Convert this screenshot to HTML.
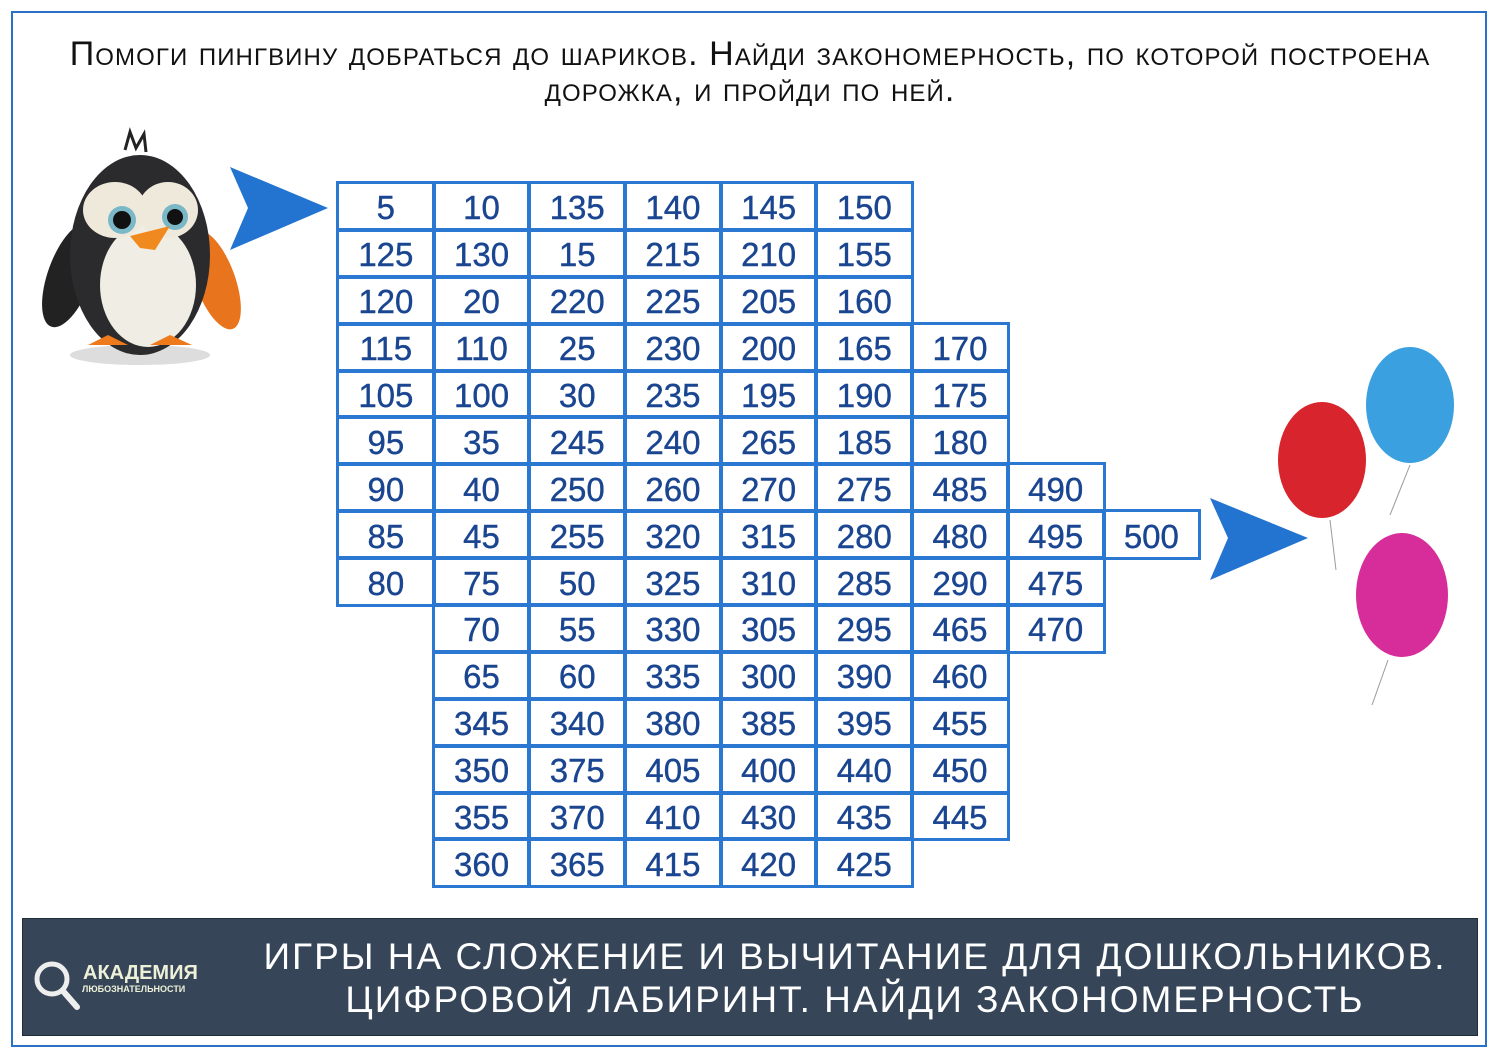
<!DOCTYPE html>
<html><head><meta charset="utf-8"><style>
body{margin:0;width:1500px;height:1060px;background:#fff;position:relative;overflow:hidden;font-family:"Liberation Sans",sans-serif}
.frame{position:absolute;left:11px;top:11px;width:1476px;height:1036px;border:2px solid #2a72c8;box-sizing:border-box}
.title{position:absolute;left:0px;top:36px;width:1500px;text-align:center;font-size:34px;line-height:36px;font-variant:small-caps;color:#111;letter-spacing:1.1px;white-space:nowrap}
.grid{position:absolute;left:338px;top:183px;display:grid;grid-template-columns:repeat(9,95.7px);grid-template-rows:repeat(15,46.9px)}
.grid div{outline:3px solid #2a78d2;outline-offset:-1.5px;color:#1a4590;font-size:33px;display:flex;align-items:center;justify-content:center;padding-top:4px;box-sizing:border-box;-webkit-text-stroke:0.4px #1a4590}
.banner{position:absolute;left:22px;top:918px;width:1456px;height:118px;background:#364658;border:1px solid #222c38;box-sizing:border-box}
.btxt{position:absolute;left:230px;top:935px;width:1250px;text-align:center;color:#fff;font-size:37px;line-height:43px;letter-spacing:2px}
</style></head><body>
<div class="frame"></div>
<div class="title">Помоги пингвину добраться до шариков. Найди закономерность, по которой построена<br>дорожка, и пройди по ней.</div>

<svg style="position:absolute;left:0;top:0" width="1500" height="1060">
<polygon points="230,167 328,208 230,250 248,208" fill="#2373d0"/>
<polygon points="1210,498 1308,538 1210,580 1228,538" fill="#2373d0"/>
<!-- penguin -->
<ellipse cx="140" cy="355" rx="70" ry="10" fill="#ddd"/>
<ellipse cx="70" cy="275" rx="22" ry="55" fill="#222" transform="rotate(20 70 275)"/>
<ellipse cx="215" cy="280" rx="20" ry="52" fill="#e8741e" transform="rotate(-20 215 280)"/>
<ellipse cx="140" cy="255" rx="70" ry="100" fill="#2b2b2e"/>
<ellipse cx="148" cy="285" rx="48" ry="62" fill="#f0ede4"/>
<ellipse cx="115" cy="210" rx="32" ry="28" fill="#efe9dc"/>
<ellipse cx="168" cy="210" rx="30" ry="28" fill="#efe9dc"/>
<circle cx="122" cy="220" r="14" fill="#7ab8c8"/><circle cx="122" cy="220" r="9" fill="#111"/>
<circle cx="175" cy="217" r="13" fill="#7ab8c8"/><circle cx="175" cy="217" r="8" fill="#111"/>
<polygon points="130,236 170,226 155,250 140,248" fill="#f08a1e"/>
<path d="M88,345 l20,-10 l20,10 z M150,345 l20,-10 l22,10 z" fill="#ef7a1c"/>
<path d="M125,150 l5,-18 l6,16 l8,-14 l2,18" stroke="#222" stroke-width="3" fill="none"/>
<!-- balloons -->
<line x1="1410" y1="465" x2="1390" y2="515" stroke="#999"/>
<line x1="1330" y1="520" x2="1336" y2="570" stroke="#999"/>
<line x1="1388" y1="660" x2="1372" y2="705" stroke="#999"/>
<ellipse cx="1410" cy="405" rx="44" ry="58" fill="#3aa0e0"/>
<ellipse cx="1322" cy="460" rx="44" ry="58" fill="#d8242c"/>
<ellipse cx="1402" cy="595" rx="46" ry="62" fill="#d62d9a"/>
</svg>

<div class="grid">
<div style="grid-column-start:1">5</div><div>10</div><div>135</div><div>140</div><div>145</div><div>150</div>
<div style="grid-column-start:1">125</div><div>130</div><div>15</div><div>215</div><div>210</div><div>155</div>
<div style="grid-column-start:1">120</div><div>20</div><div>220</div><div>225</div><div>205</div><div>160</div>
<div style="grid-column-start:1">115</div><div>110</div><div>25</div><div>230</div><div>200</div><div>165</div><div>170</div>
<div style="grid-column-start:1">105</div><div>100</div><div>30</div><div>235</div><div>195</div><div>190</div><div>175</div>
<div style="grid-column-start:1">95</div><div>35</div><div>245</div><div>240</div><div>265</div><div>185</div><div>180</div>
<div style="grid-column-start:1">90</div><div>40</div><div>250</div><div>260</div><div>270</div><div>275</div><div>485</div><div>490</div>
<div style="grid-column-start:1">85</div><div>45</div><div>255</div><div>320</div><div>315</div><div>280</div><div>480</div><div>495</div><div>500</div>
<div style="grid-column-start:1">80</div><div>75</div><div>50</div><div>325</div><div>310</div><div>285</div><div>290</div><div>475</div>
<div style="grid-column-start:2">70</div><div>55</div><div>330</div><div>305</div><div>295</div><div>465</div><div>470</div>
<div style="grid-column-start:2">65</div><div>60</div><div>335</div><div>300</div><div>390</div><div>460</div>
<div style="grid-column-start:2">345</div><div>340</div><div>380</div><div>385</div><div>395</div><div>455</div>
<div style="grid-column-start:2">350</div><div>375</div><div>405</div><div>400</div><div>440</div><div>450</div>
<div style="grid-column-start:2">355</div><div>370</div><div>410</div><div>430</div><div>435</div><div>445</div>
<div style="grid-column-start:2">360</div><div>365</div><div>415</div><div>420</div><div>425</div>
</div>

<div class="banner"></div>
<svg style="position:absolute;left:30px;top:955px" width="60" height="60">
<circle cx="22" cy="24" r="15" fill="none" stroke="#eee" stroke-width="5"/>
<line x1="33" y1="36" x2="47" y2="52" stroke="#eee" stroke-width="6" stroke-linecap="round"/>
</svg>
<div style="position:absolute;left:83px;top:962px;color:#eef0d8;font-weight:bold;font-size:20px">АКАДЕМИЯ</div>
<div style="position:absolute;left:82px;top:984px;color:#eef0d8;font-weight:bold;font-size:9px">ЛЮБОЗНАТЕЛЬНОСТИ</div>
<div class="btxt">ИГРЫ НА СЛОЖЕНИЕ И ВЫЧИТАНИЕ ДЛЯ ДОШКОЛЬНИКОВ.<br>ЦИФРОВОЙ ЛАБИРИНТ. НАЙДИ ЗАКОНОМЕРНОСТЬ</div>
</body></html>
